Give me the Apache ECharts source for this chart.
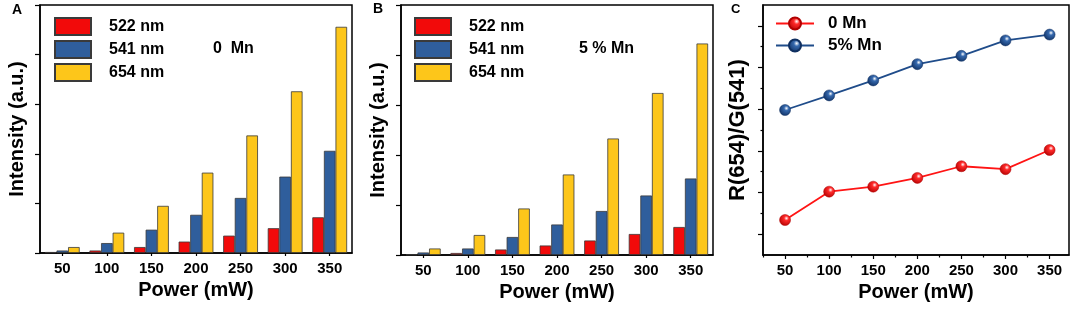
<!DOCTYPE html>
<html><head><meta charset="utf-8">
<script src="https://cdn.jsdelivr.net/npm/echarts@6/dist/echarts.min.js"></script>
<style>html,body{margin:0;padding:0;background:#fff}#c{width:1075px;height:313px}</style>
</head><body><div id="c"></div>
<script>
// ---- data ----
const powers = ['50', '100', '150', '200', '250', '300', '350'];
const seriesNames = ['522 nm', '541 nm', '654 nm'];
const a522 = [0.02, 0.05, 0.12, 0.23, 0.35, 0.50, 0.72];
const a541 = [0.05, 0.20, 0.47, 0.77, 1.11, 1.54, 2.06];
const a654 = [0.12, 0.41, 0.95, 1.62, 2.37, 3.26, 4.56];
const b522 = [0.01, 0.04, 0.11, 0.19, 0.29, 0.42, 0.56];
const b541 = [0.05, 0.13, 0.36, 0.61, 0.88, 1.19, 1.53];
const b654 = [0.13, 0.40, 0.93, 1.61, 2.33, 3.24, 4.23];
const cPower = [50, 100, 150, 200, 250, 300, 350];
const ratio0Mn = [0.84, 1.52, 1.64, 1.85, 2.13, 2.06, 2.52];
const ratio5Mn = [3.48, 3.83, 4.19, 4.58, 4.78, 5.15, 5.29];
const lineNames = ['0 Mn', '5% Mn'];
const cXMajor = [50, 100, 150, 200, 250, 300, 350];
const cXMinor = [25, 75, 125, 175, 225, 275, 325];
const cYMajor = [0.5, 1.5, 2.5, 3.5, 4.5, 5.5];
const cYMinor = [1, 2, 3, 4, 5];
const panelLetters = ['A', 'B', 'C'];
const panelNotes = ['0  Mn', '5 % Mn'];

// ---- styles ----
const FONT = '"Liberation Sans", Arial, sans-serif';
const barColors = ['#f20a0a', '#2f5e9c', '#fdc61a'];
const barBorder = '#3a3a3a';
const axisLine = { show: true, lineStyle: { color: '#000', width: 1.5 } };
const lblStyle = { color: '#000', fontSize: 15, fontWeight: 'bold', fontFamily: FONT };
const nameStyle = { color: '#000', fontSize: 20, fontWeight: 'bold', fontFamily: FONT };

function sphere(mid, dark) {
  return { type: 'radial', x: 0.62, y: 0.35, r: 0.72,
    colorStops: [{ offset: 0, color: '#ffffff' }, { offset: 0.28, color: mid }, { offset: 1, color: dark }] };
}

const grids = [
  { left: 40, top: 5, width: 312, height: 248 },
  { left: 401, top: 5, width: 312, height: 250 },
  { left: 763, top: 5, width: 306, height: 250 }
].map(g => Object.assign(g, { show: true, borderColor: '#000', borderWidth: 1.5, containLabel: false }));

const xAxes = [];
const yAxes = [];
[0, 1].forEach(i => {
  xAxes.push({
    type: 'category', gridIndex: i, data: powers, position: 'bottom',
    axisLine: axisLine,
    axisTick: { show: true, alignWithLabel: true, length: 3, lineStyle: { color: '#000', width: 1.2 } },
    axisLabel: Object.assign({ margin: 8 }, lblStyle),
    name: 'Power (mW)', nameLocation: 'middle', nameGap: 22, nameTextStyle: nameStyle
  });
  yAxes.push({
    type: 'value', gridIndex: i, min: 0, max: 5, interval: 1, position: 'left',
    axisLine: axisLine,
    axisTick: { show: true, length: 5, lineStyle: { color: '#000', width: 1.2 } },
    axisLabel: { show: false }, splitLine: { show: false },
    name: 'Intensity (a.u.)', nameLocation: 'middle', nameGap: 13, nameTextStyle: nameStyle
  });
});
// panel C axes
xAxes.push({
  type: 'value', gridIndex: 2, min: 25, max: 372, position: 'bottom',
  axisLine: axisLine,
  axisTick: { show: true, length: 4, customValues: cXMajor, lineStyle: { color: '#000', width: 1.2 } },
  axisLabel: Object.assign({ margin: 8, customValues: cXMajor }, lblStyle),
  splitLine: { show: false },
  name: 'Power (mW)', nameLocation: 'middle', nameGap: 22, nameTextStyle: nameStyle
});
xAxes.push({
  type: 'value', gridIndex: 2, min: 25, max: 372, position: 'bottom',
  axisLine: { show: false },
  axisTick: { show: true, length: 2.5, customValues: cXMinor, lineStyle: { color: '#000', width: 1.2 } },
  axisLabel: { show: false }, splitLine: { show: false }
});
yAxes.push({
  type: 'value', gridIndex: 2, min: 0, max: 6, position: 'left',
  axisLine: axisLine,
  axisTick: { show: true, length: 5, customValues: cYMajor, lineStyle: { color: '#000', width: 1.2 } },
  axisLabel: { show: false }, splitLine: { show: false },
  name: 'R(654)/G(541)', nameLocation: 'middle', nameGap: 14,
  nameTextStyle: Object.assign({}, nameStyle, { fontSize: 22 })
});
yAxes.push({
  type: 'value', gridIndex: 2, min: 0, max: 6, position: 'left',
  axisLine: { show: false },
  axisTick: { show: true, length: 2.5, customValues: cYMinor, lineStyle: { color: '#000', width: 1.2 } },
  axisLabel: { show: false }, splitLine: { show: false }
});

const series = [];
[[a522, a541, a654], [b522, b541, b654]].forEach((set, gi) => {
  set.forEach((vals, k) => {
    series.push({
      type: 'bar', name: seriesNames[k], xAxisIndex: gi, yAxisIndex: gi, data: vals,
      barGap: '0%', barCategoryGap: '22%',
      itemStyle: { color: barColors[k], borderColor: barBorder, borderWidth: 0.8 }
    });
  });
});
const lineColors = [['#ff1414', '#ff2a2a', '#b00000'], ['#1f4c8a', '#3568ad', '#0f2f60']];
[ratio0Mn, ratio5Mn].forEach((vals, k) => {
  series.push({
    type: 'line', name: lineNames[k], xAxisIndex: 2, yAxisIndex: 2,
    data: cPower.map((p, i) => [p, vals[i]]),
    symbol: 'circle', symbolSize: 11, showAllSymbol: true,
    lineStyle: { color: lineColors[k][0], width: 1.8 },
    itemStyle: { color: sphere(lineColors[k][1], lineColors[k][2]), borderColor: lineColors[k][2], borderWidth: 0.5 },
    z: 3 + k
  });
});

const barLegend = (left) => ({
  left: left, top: 17, padding: 0, orient: 'vertical', itemWidth: 36, itemHeight: 17, itemGap: 4,
  selectedMode: false, data: seriesNames, icon: 'rect',
  textStyle: { color: '#000', fontSize: 16, fontWeight: 'bold', fontFamily: FONT, padding: [0, 0, 0, 13] }
});

const option = {
  animation: false,
  textStyle: { fontFamily: FONT },
  grid: grids,
  xAxis: xAxes,
  yAxis: yAxes,
  legend: [
    barLegend(54),
    barLegend(414),
    { left: 775, top: 15, padding: 0, orient: 'vertical', itemWidth: 38, itemHeight: 15, itemGap: 5,
      selectedMode: false, data: lineNames,
      textStyle: { color: '#000', fontSize: 17, fontWeight: 'bold', fontFamily: FONT, padding: [0, 0, 0, 9] } }
  ],
  graphic: [
    { type: 'text', left: 12, top: 3, style: { text: panelLetters[0], font: 'bold 14px ' + FONT, fill: '#000' } },
    { type: 'text', left: 373, top: 2, style: { text: panelLetters[1], font: 'bold 14px ' + FONT, fill: '#000' } },
    { type: 'text', left: 731, top: 3, style: { text: panelLetters[2], font: 'bold 13px ' + FONT, fill: '#000' } },
    { type: 'text', left: 213, top: 41, style: { text: panelNotes[0], font: 'bold 16px ' + FONT, fill: '#000' } },
    { type: 'text', left: 579, top: 41, style: { text: panelNotes[1], font: 'bold 16px ' + FONT, fill: '#000' } }
  ],
  series: series
};
const chart = echarts.init(document.getElementById('c'), null, { renderer: 'canvas' });
chart.setOption(option);
</script>
</body></html>
